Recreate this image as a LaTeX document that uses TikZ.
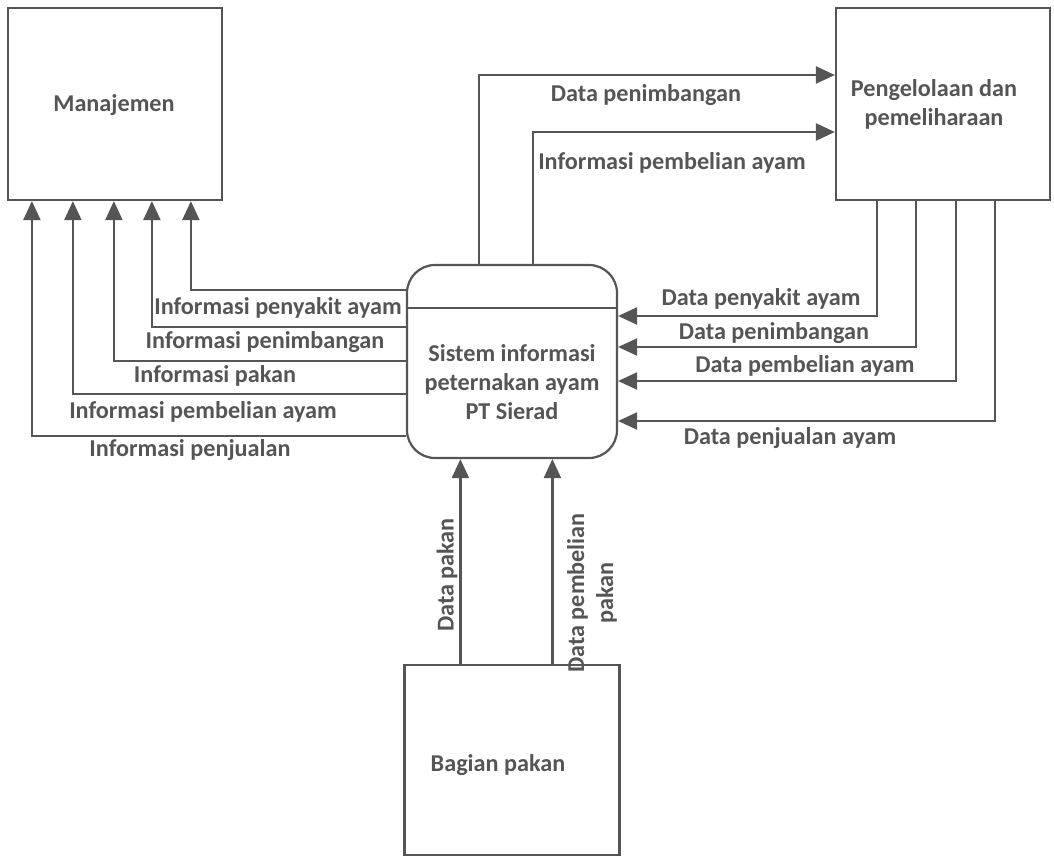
\documentclass[tikz,border=0pt]{standalone}
\usepackage{fontspec}
\setmainfont{Carlito}
\usetikzlibrary{arrows.meta}
\definecolor{ink}{HTML}{555555}
\begin{document}
\begin{tikzpicture}[x=1pt,y=-1pt,
  box/.style={draw=ink,line width=2.2pt,minimum width=214pt,minimum height=192pt,inner sep=0pt},
  lbl/.style={text=ink,font=\fontsize{24.2}{29}\selectfont\bfseries,inner sep=0pt,align=center},
  flow/.style={draw=ink,line width=2.2pt,-{Triangle[length=19pt,width=17pt]}}]
\useasboundingbox (0,0) rectangle (1054,861);
\node[box] (man) at (115,104) {};
\node[box] (peng) at (943,104) {};
\node[box,rounded corners=28pt,minimum width=210pt,minimum height=193pt] (proc) at (512,361.5) {};
\node[box,minimum width=215pt,minimum height=190pt] (bag) at (512,760) {};
\draw[draw=ink,line width=2.2pt] ([yshift=53.5pt]proc.west) -- ([yshift=53.5pt]proc.east);
% texts inside
\node[lbl] (tman) at (114,105) {Manajemen};
\node[lbl] (tpeng) at (934,104) {Pengelolaan dan\\pemeliharaan};
\node[lbl,text depth=0pt] (tproc) at (512,382) {Sistem informasi\\peternakan ayam\\PT Sierad};
\node[lbl] (tbag) at (498,765) {Bagian pakan};
% top arrows
\draw[flow] ([xshift=73pt]proc.north west) |- ([yshift=29pt]peng.west);
\draw[flow] ([xshift=127pt]proc.north west) |- ([yshift=-28pt]peng.west);
% right arrows
\draw[flow] ([xshift=42pt]peng.south west) |- ([yshift=45.5pt]proc.east);
\draw[flow] ([xshift=81pt]peng.south west) |- ([yshift=14.5pt]proc.east);
\draw[flow] ([xshift=121pt]peng.south west) |- ([yshift=-19.5pt]proc.east);
\draw[flow] ([xshift=160pt]peng.south west) |- ([yshift=-59.5pt]proc.east);
% left arrows
\draw[flow] ([yshift=71.5pt]proc.west) -| ([xshift=184pt]man.south west);
\draw[flow] ([yshift=34.5pt]proc.west) -| ([xshift=145pt]man.south west);
\draw[flow] ([yshift=0.5pt]proc.west) -| ([xshift=107pt]man.south west);
\draw[flow] ([yshift=-32.5pt]proc.west) -| ([xshift=66pt]man.south west);
\draw[flow] ([yshift=-74.5pt]proc.west) -| ([xshift=25pt]man.south west);
% bottom arrows
\coordinate (b1) at ([xshift=57pt]bag.north west);
\coordinate (b2) at ([xshift=149pt]bag.north west);
\draw[flow] (b1) -- (b1 |- proc.south);
\draw[flow] (b2) -- (b2 |- proc.south);
% labels
\node[lbl] (l1) at (278,308) {Informasi penyakit ayam};
\node[lbl] (l2) at (265,342) {Informasi penimbangan};
\node[lbl] (l3) at (215,376) {Informasi pakan};
\node[lbl] (l4) at (203,412) {Informasi pembelian ayam};
\node[lbl] (l5) at (190,450) {Informasi penjualan};
\node[lbl] (r1) at (761,299) {Data penyakit ayam};
\node[lbl] (r2) at (774,333) {Data penimbangan};
\node[lbl] (r3) at (805,366) {Data pembelian ayam};
\node[lbl] (r4) at (790,438) {Data penjualan ayam};
\node[lbl] (t1) at (646,95) {Data penimbangan};
\node[lbl] (t2) at (672,163) {Informasi pembelian ayam};
\node[lbl,rotate=90] (d1) at (447,575) {Data pakan};
\node[lbl,rotate=90] (d2) at (592,593) {Data pembelian\\pakan};
\end{tikzpicture}
\end{document}
